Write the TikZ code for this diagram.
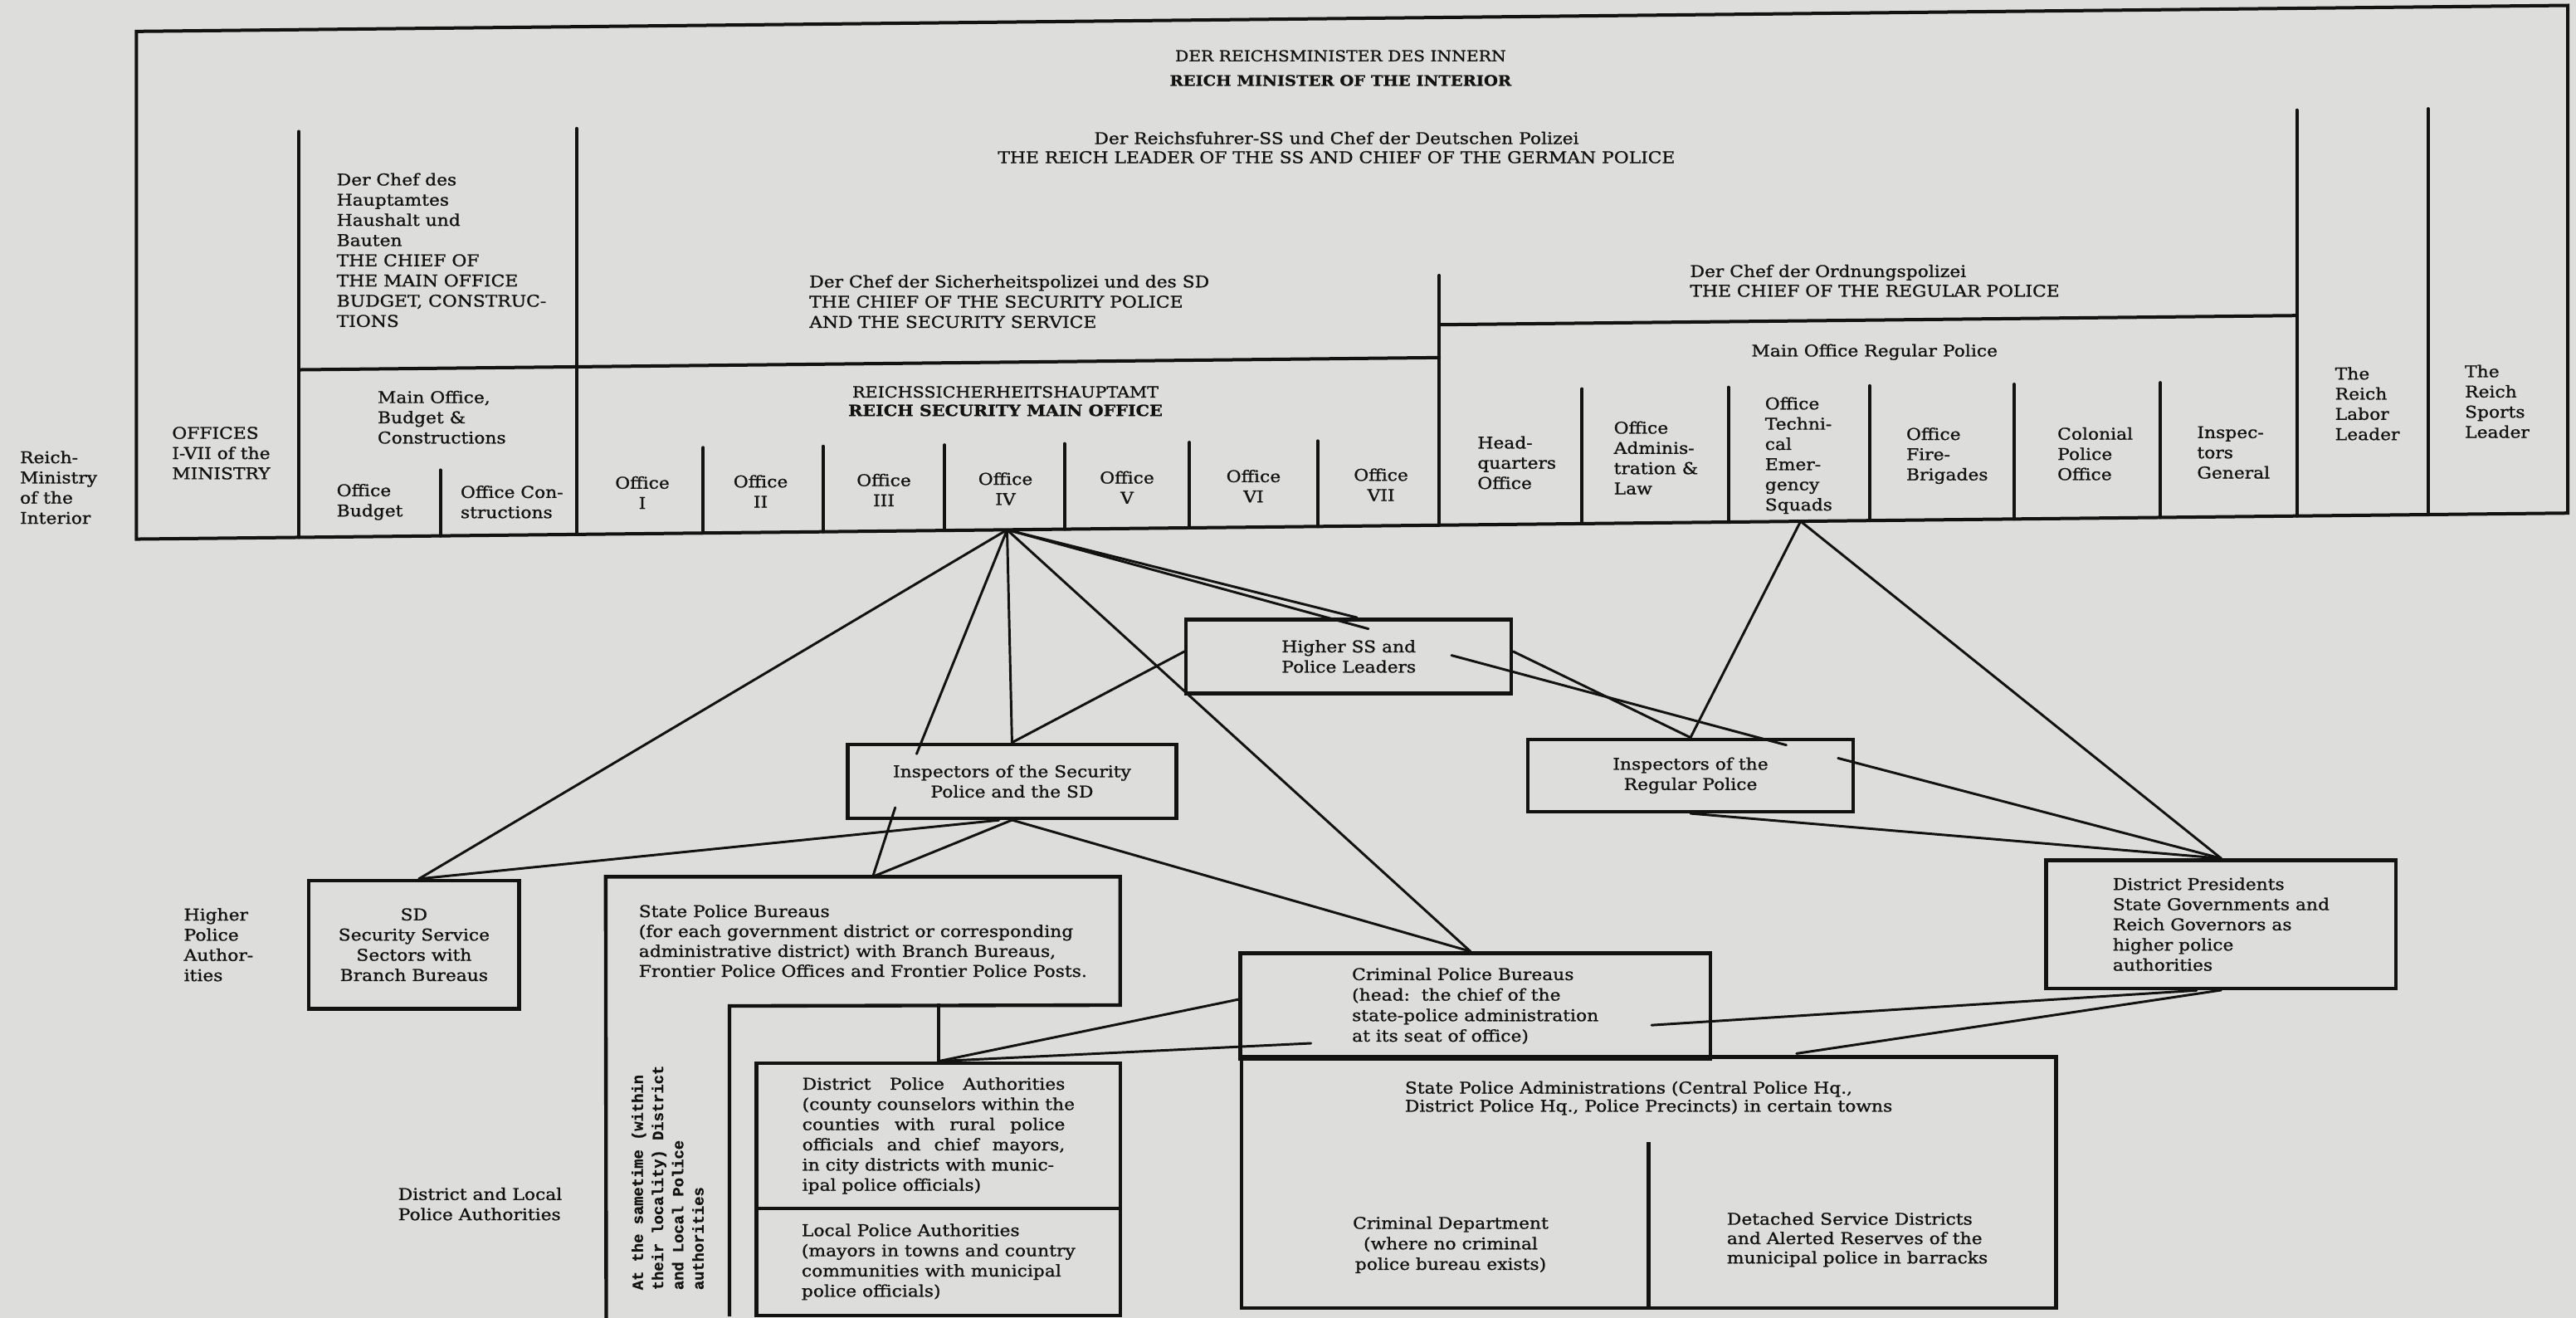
\documentclass[tikz,border=0pt]{standalone}
\usepackage{fontspec}
\setmainfont{DejaVu Serif}[FakeStretch=1.12,FakeBold=1.1]
\newfontfamily\monob{Liberation Mono}[FakeBold=0.8]
\usetikzlibrary{calc}
\definecolor{paper}{RGB}{221,221,219}
\definecolor{ink}{RGB}{18,18,18}
\begin{document}
\begin{tikzpicture}[x=0.02cm,y=-0.02cm,
  frame/.style={draw=ink, line width=1.15pt, line cap=round},
  boxline/.style={draw=ink, line width=1.25pt},
  box/.style={boxline, shape=rectangle, inner sep=0pt},
  con/.style={draw=ink, line width=0.85pt, line cap=round},
  tx/.style={inner sep=0pt, align=left, text=ink, font=\fontsize{5.6}{7}\selectfont},
  txc/.style={tx, align=center},
]
\fill[paper] (0,0) rectangle (1568,802);
\useasboundingbox (0,0) rectangle (1568,802);
\begin{scope}[yslant=0.0107]
% ---------------- top chart (table) ----------------
\draw[frame] (83,20) -- (1563,20) -- (1563,329) -- (83,329) -- cycle;
\draw[frame] (182,82) -- (182,329);
\draw[frame] (351,82) -- (351,329);
\draw[frame] (1398,82) -- (1398,329);
\draw[frame] (1478,82) -- (1478,329);
\draw[frame] (182,227) -- (876,227);
\draw[frame] (268,289) -- (268,329);
\foreach \x in {428,501,575,648,724,802} \draw[frame] (\x,277) -- (\x,329);
\draw[frame] (876,177) -- (876,329);
\draw[frame] (876,207) -- (1398,207);
\foreach \x in {963,1052,1138,1226,1315} \draw[frame] (\x,247) -- (\x,329);

\coordinate (IVb) at (613,329);
\coordinate (SQb) at (1096,329);

\node[txc, font=\fontsize{5.2}{7}\selectfont] (minA) at (816,42.7) {DER REICHSMINISTER DES INNERN};
\node[txc, font=\fontsize{5.0}{7}\selectfont\bfseries] (minB) at (816,57.7) {REICH MINISTER OF THE INTERIOR};
\node[txc, font=\fontsize{5.6}{6.6}\selectfont] (rfss) at (813.5,98.5) {Der Reichsfuhrer-SS und Chef der Deutschen Polizei\\THE REICH LEADER OF THE SS AND CHIEF OF THE GERMAN POLICE};
\node[tx, anchor=west] (chb) at (204.6,154.4) {Der Chef des\\Hauptamtes\\Haushalt und\\Bauten\\THE CHIEF OF\\THE MAIN OFFICE\\BUDGET, CONSTRUC-\\TIONS};
\node[tx, anchor=west] (mob) at (229.5,256.4) {Main Office,\\Budget \&\\Constructions};
\node[tx, anchor=west] (ofb) at (204.6,307.7) {Office\\Budget};
\node[tx, anchor=west] (ofc) at (280,308.5) {Office Con-\\structions};
\node[tx, anchor=west] (ofm) at (104.4,276.9) {OFFICES\\I-VII of the\\MINISTRY};
\node[tx, anchor=west] (rmi) at (11.8,296.8) {Reich-\\Ministry\\of the\\Interior};
\node[tx, anchor=west] (csp) at (492.3,188.8) {Der Chef der Sicherheitspolizei und des SD\\THE CHIEF OF THE SECURITY POLICE\\AND THE SECURITY SERVICE};
\node[txc, font=\fontsize{5.3}{6.4}\selectfont] (rsha) at (612,250.7) {REICHSSICHERHEITSHAUPTAMT\\\textbf{REICH SECURITY MAIN OFFICE}};
\node[txc] (o1) at (391,304) {Office\\I};
\node[txc] (o2) at (463,304) {Office\\II};
\node[txc] (o3) at (538,304) {Office\\III};
\node[txc] (o4) at (612,304) {Office\\IV};
\node[txc] (o5) at (686,304) {Office\\V};
\node[txc] (o6) at (763,304) {Office\\VI};
\node[txc] (o7) at (840.6,304) {Office\\VII};
\node[tx, anchor=west, font=\fontsize{5.6}{6.8}\selectfont] (cop) at (1028.4,181.9) {Der Chef der Ordnungspolizei\\THE CHIEF OF THE REGULAR POLICE};
\node[txc] (morp) at (1141,226.5) {Main Office Regular Police};
\node[tx, anchor=west] (hq) at (899,291.2) {Head-\\quarters\\Office};
\node[tx, anchor=west] (oal) at (982,289.2) {Office\\Adminis-\\tration \&\\Law};
\node[tx, anchor=west] (otc) at (1074,288.7) {Office\\Techni-\\cal\\Emer-\\gency\\Squads};
\node[tx, anchor=west] (ofi) at (1160,289.8) {Office\\Fire-\\Brigades};
\node[tx, anchor=west] (cpo) at (1252,289.6) {Colonial\\Police\\Office};
\node[tx, anchor=west] (ing) at (1337,289.7) {Inspec-\\tors\\General};
\node[tx, anchor=west] (rll) at (1421,260.9) {The\\Reich\\Labor\\Leader};
\node[tx, anchor=west] (rsl) at (1500,260.4) {The\\Reich\\Sports\\Leader};

% ---------------- lower part ----------------
\node[box, tx, minimum width=3.96cm, minimum height=0.9cm] (HSS) at (821,408.3) {Higher SS and\\Police Leaders};
\node[box, txc, minimum width=4cm, minimum height=0.9cm] (ISP) at (616,482.1) {Inspectors of the Security\\Police and the SD};
\node[box, txc, minimum width=3.96cm, minimum height=0.88cm] (IR) at (1029,483) {Inspectors of the\\Regular Police};
\node[box, tx, minimum width=4.26cm, minimum height=1.56cm] (DP) at (1352,577) {District Presidents\\State Governments and\\Reich Governors as\\higher police\\authorities};
\node[box, txc, minimum width=2.56cm, minimum height=1.56cm] (SD) at (252,577.7) {SD\\Security Service\\Sectors with\\Branch Bureaus};
\node[tx, minimum width=6.25cm, minimum height=1.548cm, font=\fontsize{5.6}{6.9}\selectfont] (SPB) at (525.25,578.3) {State Police Bureaus\\(for each government district or corresponding\\administrative district) with Branch Bureaus,\\Frontier Police Offices and Frontier Police Posts.};
\coordinate (botL) at (369,806);
\coordinate (botI) at (444,806);
\coordinate (SPBstep) at (444,617);
\draw[boxline] (botL) -- (SPB.north west) -- (SPB.north east) -- (SPB.south east) -- (SPBstep) -- (botI);
\node[inner sep=0pt, rotate=90, anchor=west, align=left, text=ink, font=\monob\bfseries\fontsize{5.4}{7}\selectfont] (rotT) at (406.4,789.8) {At the sametime (within\\their locality) District\\and Local Police\\authorities};

\node[box, minimum width=9.922cm, minimum height=3.06cm] (SPA) at (1003.55,730.5) {};
\node[box, tx, minimum width=5.72cm, minimum height=1.286cm, font=\fontsize{5.6}{7.1}\selectfont] (CPB) at (898,621.85) {Criminal Police Bureaus\\(head:\ \ the chief of the\\state-police administration\\at its seat of office)};
\coordinate (spamid) at (1003.5,706);
\draw[boxline] (spamid) -- (spamid |- SPA.south);
\node[tx, anchor=west, font=\fontsize{5.6}{6.3}\selectfont] (spaT) at (854.8,677.5) {State Police Administrations (Central Police Hq.,\\District Police Hq., Police Precincts) in certain towns};
\node[txc, font=\fontsize{5.6}{7.1}\selectfont] (cdT) at (883,767.1) {Criminal Department\\(where no criminal\\police bureau exists)};
\node[tx, anchor=west, font=\fontsize{5.6}{6.7}\selectfont] (dsT) at (1050.8,765.7) {Detached Service Districts\\and Alerted Reserves of the\\municipal police in barracks};

\node[box, tx, minimum width=4.43cm, minimum height=1.77cm] (DPA) at (571.25,697.35) {\makebox[3.2cm][s]{District Police Authorities}\\(county counselors within the\\\makebox[3.2cm][s]{counties with rural police}\\\makebox[3.2cm][s]{officials and chief mayors,}\\in city districts with munic-\\ipal police officials)};
\node[box, tx, minimum width=4.43cm, minimum height=1.302cm] (LPA) at (571.25,774.15) {Local Police Authorities\\(mayors in towns and country\\communities with municipal\\police officials)};

\node[tx, anchor=west] (hpa) at (111.6,576.2) {Higher\\Police\\Author-\\ities};
\node[tx, anchor=west] (dla) at (242,735.4) {District and Local\\Police Authorities};

% ---------------- connectors ----------------
\draw[con] (IVb) -- ([xshift=0.06cm]SD.north);
\draw[con] (IVb) -- ([shift={(43,7.4)}]ISP.north west);
\draw[con] (IVb) -- (ISP.north);
\draw[con] (ISP.north) -- ([yshift=0.06cm]HSS.west);
\draw[con] (IVb) -- ([xshift=0.1cm]HSS.north);
\draw[con] (IVb) -- ([shift={(112,8)}]HSS.north west);
\draw[con] (IVb) -- ([xshift=-0.06cm]CPB.north);
\draw[con] ([xshift=-0.16cm]ISP.south) -- ([xshift=0.06cm]SD.north);
\draw[con] (ISP.south) -- ([xshift=0.12cm]SPB.north);
\draw[con] ([shift={(30,-7.3)}]ISP.south west) -- ([xshift=0.12cm]SPB.north);
\draw[con] (ISP.south) -- ([xshift=-0.06cm]CPB.north);
\draw[con] ([xshift=1.25cm]HSS.center) -- ([shift={(58.3,-17.9)}]IR.center);
\draw[con] ([yshift=0.06cm]HSS.east) -- (IR.north);
\draw[con] (SQb) -- (IR.north);
\draw[con] (SQb) -- (DP.north);
\draw[con] ([shift={(89.8,-9.6)}]IR.center) -- (DP.north);
\draw[con] (IR.south) -- (DP.north);
\draw[con] ([shift={(107.3,12.85)}]CPB.center) -- ([xshift=-0.3cm]DP.south);
\draw[con] ([xshift=1.8cm]SPA.north) -- (DP.south);
\draw[con] (DPA.north) -- ([yshift=0.08cm]CPB.west);
\draw[con] (DPA.north) -- ([shift={(-100,21.65)}]CPB.center);
\draw[boxline] (DPA.north) -- (DPA.north |- SPBstep);
\end{scope}
\end{tikzpicture}
\end{document}
